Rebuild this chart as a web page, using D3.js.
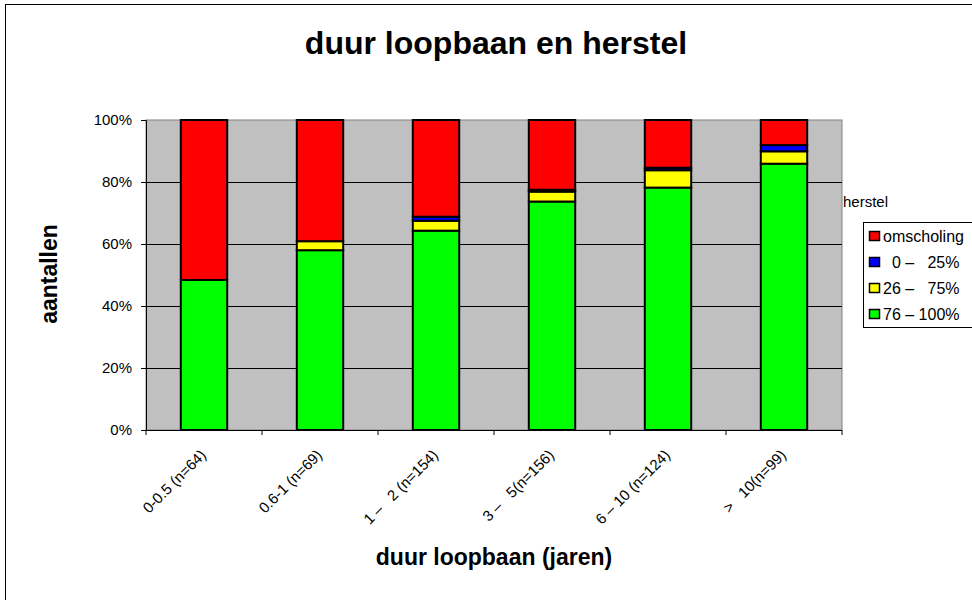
<!DOCTYPE html>
<html><head><meta charset="utf-8">
<script src="https://cdn.jsdelivr.net/npm/d3@7"></script>
<style>
html,body{margin:0;padding:0;background:#fff;}
svg{display:block;font-family:Arial,"Liberation Sans",sans-serif;}
</style></head>
<body>
<svg id="chart" width="972" height="600"></svg>
<script>
// Data (percentages per category)
const categories = ["0-0.5 (n=64)", "0.6-1 (n=69)", "1 \u2013   2 (n=154)", "3 \u2013   5(n=156)", "6 \u2013 10 (n=124)", ">   10(n=99)"];
const seriesNames = ["76 \u2013 100%", "26 \u2013   75%", "  0 \u2013   25%", "omscholing"];
const herstel76_100 = [48.4, 58.0, 64.3, 73.7, 78.2, 85.9];
const herstel26_75 = [0.0, 2.9, 3.2, 3.2, 5.6, 4.0];
const herstel0_25 = [0.0, 0.0, 1.3, 0.6, 0.8, 2.0];
const omscholing = [51.6, 39.1, 31.2, 22.5, 15.4, 8.1];
const yTicks = [0, 20, 40, 60, 80, 100];
const colors = ["#00FF00", "#FFFF00", "#0000FF", "#FF0000"];

const seriesValues = [herstel76_100, herstel26_75, herstel0_25, omscholing];
const rows = categories.map((c, i) => {
  const r = {cat: c};
  seriesNames.forEach((s, j) => r[s] = seriesValues[j][i]);
  return r;
});

const svg = d3.select("#chart");
// outer chart border
svg.append("rect").attr("x", 5.5).attr("y", 4.5).attr("width", 980).attr("height", 620)
  .attr("fill", "none").attr("stroke", "#000").attr("stroke-width", 1);

const L = 146, R = 842, T = 120, B = 430;
const x = d3.scaleBand().domain(categories).range([L, R]).padding(0);
const y = d3.scaleLinear().domain([0, 100]).range([B, T]);

// title
svg.append("text").attr("x", 496).attr("y", 54).attr("text-anchor", "middle")
  .attr("font-size", 32).attr("font-weight", "bold").text("duur loopbaan en herstel");

// plot background
svg.append("rect").attr("x", L).attr("y", T).attr("width", R - L).attr("height", B - T)
  .attr("fill", "#C0C0C0").attr("stroke", "#808080").attr("stroke-width", 1);

// gridlines
svg.append("g").selectAll("line").data(yTicks.filter(t => t > 0 && t < 100)).join("line")
  .attr("x1", L).attr("x2", R).attr("y1", d => Math.round(y(d)) + 0.5).attr("y2", d => Math.round(y(d)) + 0.5)
  .attr("stroke", "#000").attr("stroke-width", 1);

// stacked bars
const stack = d3.stack().keys(seriesNames)(rows);
const bw = x.bandwidth() * 0.4;
svg.append("g").selectAll("g").data(stack).join("g")
  .attr("fill", (d, i) => colors[i])
  .selectAll("rect").data(d => d.filter(p => p[1] - p[0] > 0)).join("rect")
  .attr("x", d => x(d.data.cat) + (x.bandwidth() - bw) / 2)
  .attr("width", bw)
  .attr("y", d => y(d[1]))
  .attr("height", d => y(d[0]) - y(d[1]))
  .attr("stroke", "#000").attr("stroke-width", 2);

// y axis
const yAxis = d3.axisLeft(y).tickValues(yTicks).tickFormat(d => d + "%").tickSize(5).tickPadding(9);
const gy = svg.append("g").attr("transform", `translate(${L},0)`).call(yAxis);
gy.select(".domain").attr("stroke", "#000");
gy.selectAll("text").attr("font-size", 15).attr("font-family", "Arial, 'Liberation Sans', sans-serif").attr("fill", "#000");

// x axis (ticks at category boundaries)
const boundaries = categories.map(c => x(c)).concat([R]);
const gx = svg.append("g");
gx.append("line").attr("x1", L).attr("x2", R).attr("y1", B + 0.5).attr("y2", B + 0.5).attr("stroke", "#000");
gx.selectAll("line.tk").data(boundaries).join("line").attr("class", "tk")
  .attr("x1", d => d).attr("x2", d => d).attr("y1", B).attr("y2", B + 5).attr("stroke", "#000");
gx.selectAll("text").data(categories).join("text")
  .attr("transform", d => `translate(${x(d) + x.bandwidth() / 2 + 3},${B + 26}) rotate(-45)`)
  .attr("text-anchor", "end").attr("font-size", 15)
  .style("white-space", "pre").text(d => d);

// axis titles
svg.append("text").attr("transform", "translate(57,274) rotate(-90)").attr("text-anchor", "middle")
  .attr("font-size", 23).attr("font-weight", "bold").text("aantallen");
svg.append("text").attr("x", 494).attr("y", 565).attr("text-anchor", "middle")
  .attr("font-size", 23).attr("font-weight", "bold").text("duur loopbaan (jaren)");

// legend
svg.append("text").attr("x", 843).attr("y", 207).attr("font-size", 15).text("herstel");
svg.append("rect").attr("x", 863.5).attr("y", 222.5).attr("width", 120).attr("height", 105)
  .attr("fill", "#fff").attr("stroke", "#000");
const legendOrder = [3, 2, 1, 0];
const lg = svg.append("g").selectAll("g").data(legendOrder).join("g")
  .attr("transform", (d, i) => `translate(869,${236 + i * 26})`);
lg.append("rect").attr("x", 0.5).attr("y", -4.5).attr("width", 10).attr("height", 9)
  .attr("fill", d => colors[d]).attr("stroke", "#000").attr("stroke-width", 1.5);
lg.append("text").attr("x", 14).attr("y", 6).attr("font-size", 16).style("white-space", "pre")
  .text(d => seriesNames[d]);
</script>
</body></html>
